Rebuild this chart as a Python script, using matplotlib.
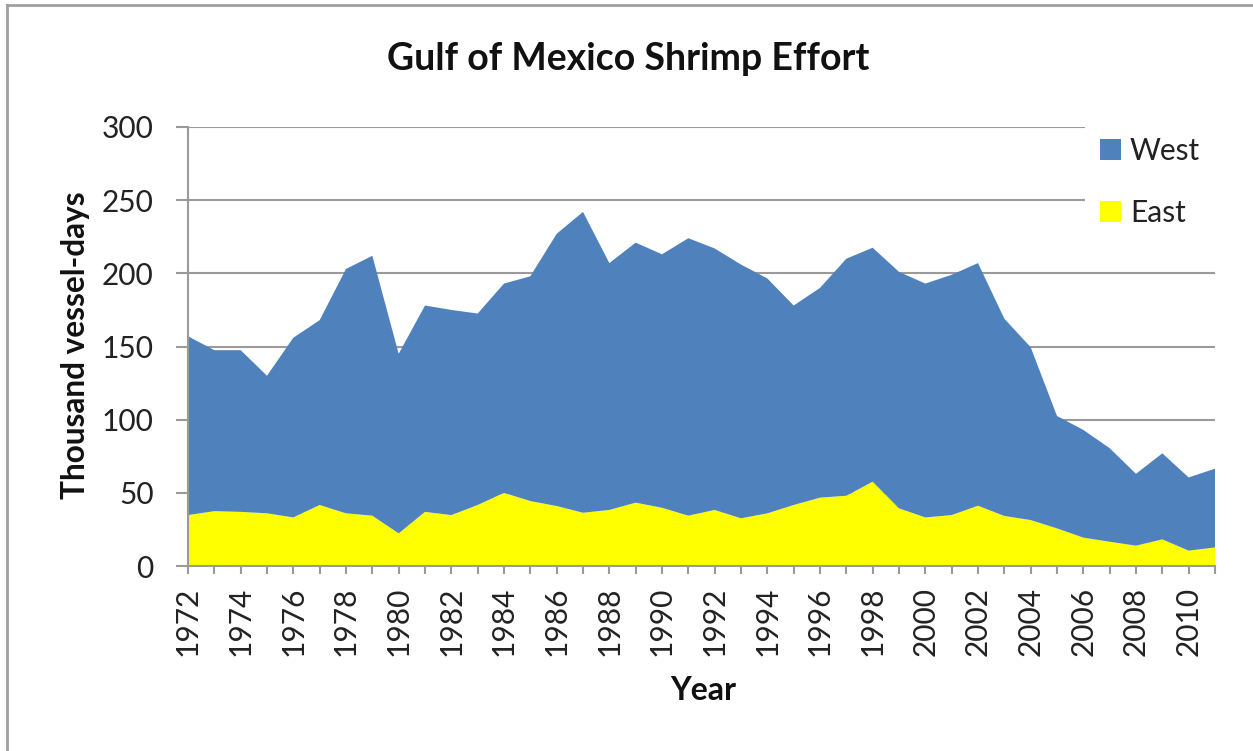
import matplotlib
matplotlib.use("Agg")
import matplotlib.pyplot as plt
from matplotlib.lines import Line2D
import numpy as np

years = list(range(1972, 2012))
total = [157, 147.5, 147.5, 130, 156, 168, 203, 212, 145, 178, 175, 172.5, 193, 198,
         227, 242, 207, 221, 213, 224, 217, 206, 196.5, 178, 190, 210, 217.5, 201,
         193, 199, 207, 169, 149.5, 102.5, 93, 80.5, 63, 77, 60.5, 66.5]
east = [34.8, 37.5, 37, 36, 33.2, 41.7, 36, 34.4, 22.3, 37, 34.8, 41.7, 50, 44.4,
        41, 36.4, 38.3, 43.3, 39.8, 34.4, 38.3, 32.6, 36, 41.7, 46.7, 48, 57.6, 39.4,
        33.2, 34.8, 41.2, 34.2, 31.4, 25.7, 19.4, 16.6, 13.9, 18.2, 10.5, 12.7]
west = [t - e for t, e in zip(total, east)]
series_names = ["West", "East"]
colors = {"West": "#4F81BD", "East": "#FFFF00"}
yticks = [0, 50, 100, 150, 200, 250, 300]
xlabels_years = years[::2]

FONT = "Lato"
plt.rcParams["font.family"] = [FONT, "DejaVu Sans"]

fig = plt.figure(figsize=(12.53, 7.51), dpi=100)
ax = fig.add_axes([188/1253, 1-566/751, (1215-188)/1253, (566-127)/751])

ax.stackplot(years, east, west, colors=[colors["East"], colors["West"]],
             labels=["East", "West"], zorder=2, linewidth=0)

ax.set_xlim(1972, 2011)
ax.set_ylim(0, 300)
ax.set_yticks(yticks)
ax.set_xticks(years)
ax.set_xticklabels([str(y) if y in xlabels_years else "" for y in years], rotation=90)
for y in yticks[1:]:
    ax.axhline(y, color="#9a9a9a", linewidth=1.5, zorder=1)

for s in ["top", "right"]:
    ax.spines[s].set_visible(False)
for s in ["left", "bottom"]:
    ax.spines[s].set_color("#9a9a9a")
    ax.spines[s].set_linewidth(1.5)
    ax.spines[s].set_zorder(3)

ax.tick_params(axis="y", direction="out", length=12*0.72, width=1.5, color="#9a9a9a",
               labelsize=21.5, pad=16, labelcolor="#222222")
ax.tick_params(axis="x", direction="out", length=8*0.72, width=1.5, color="#9a9a9a",
               labelsize=21.5, pad=9, labelcolor="#222222")

fig.text(628/1253, 1-59/751, "Gulf of Mexico Shrimp Effort", ha="center", va="center",
         fontsize=27, fontweight="bold", color="#111111")
fig.text(76/1253, 1-345/751, "Thousand vessel-days", ha="center", va="center",
         rotation=90, fontsize=22.7, fontweight="bold", color="#111111")
fig.text(703/1253, 1-690/751, "Year", ha="center", va="center",
         fontsize=23, fontweight="bold", color="#111111")

handles, labels = ax.get_legend_handles_labels()
order = [labels.index(n) for n in series_names]
leg = ax.legend([handles[i] for i in order], [labels[i] for i in order],
                loc="center left", bbox_to_anchor=(1085/1253, 1-182/751),
                bbox_transform=fig.transFigure, frameon=True, fancybox=False,
                facecolor="white", edgecolor="none", framealpha=1,
                fontsize=21.5, borderaxespad=0, borderpad=0.5,
                handlelength=0.7, handleheight=0.7, handletextpad=0.3,
                labelspacing=1.12)
for t in leg.get_texts():
    t.set_color("#222222")
leg.set_zorder(5)

fig.add_artist(Line2D([7/1253, 1], [1-5/751, 1-5/751], color="#a0a0a0", linewidth=2,
                      transform=fig.transFigure))
fig.add_artist(Line2D([7/1253, 7/1253], [0, 1-5/751], color="#a0a0a0", linewidth=2,
                      transform=fig.transFigure))

fig.savefig("out.png", dpi=100, facecolor="white")
